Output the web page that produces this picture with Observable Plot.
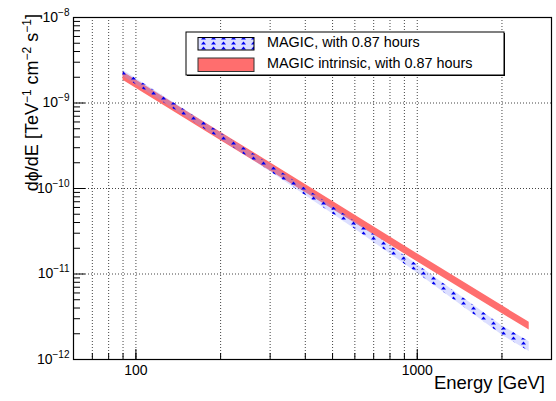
<!DOCTYPE html>
<html><head><meta charset="utf-8">
<script src="https://cdn.jsdelivr.net/npm/d3@7"></script>
<script src="https://cdn.jsdelivr.net/npm/@observablehq/plot@0.6"></script>
<style>
body{margin:0;background:#fff;}
#chart{position:relative;width:556px;height:401px;}
svg{font-family:"Liberation Sans",Arial,sans-serif;}
</style>
</head><body><div id="chart"></div>
<script>
const energyObs = [90, 150, 300, 600, 1000, 2000, 2500];
const obsUpper  = [2.41e-9, 8.20e-10, 1.905e-10, 4.14e-11, 1.294e-11, 2.48e-12, 1.61e-12];
const obsLower  = [2.05e-9, 6.92e-10, 1.585e-10, 3.37e-11, 1.028e-11, 1.93e-12, 1.24e-12];
// Intrinsic band
const energyIntr = [90, 200, 500, 1000, 2500];
const intrUpper  = [2.30e-9, 4.55e-10, 7.1e-11, 1.73e-11, 2.72e-12];
const intrLower  = [1.84e-9, 3.65e-10, 5.7e-11, 1.39e-11, 2.21e-12];

const seriesNames = ["MAGIC, with 0.87 hours", "MAGIC intrinsic, with 0.87 hours"];
const xGrid = [70, 80, 90, 100, 200, 300, 400, 500, 600, 700, 800, 900, 1000, 2000];
const xMajor = [100, 1000];
const yGrid = [1e-11, 1e-10, 1e-9];
const yDecades = [1e-12, 1e-11, 1e-10, 1e-9, 1e-8];
const yMinor = [2e-12,3e-12,4e-12,5e-12,6e-12,7e-12,8e-12,9e-12,
                2e-11,3e-11,4e-11,5e-11,6e-11,7e-11,8e-11,9e-11,
                2e-10,3e-10,4e-10,5e-10,6e-10,7e-10,8e-10,9e-10,
                2e-9,3e-9,4e-9,5e-9,6e-9,7e-9,8e-9,9e-9];

const W = 556, H = 401, mL = 73, mR = 5, mT = 17, mB = 42;
const innerW = W - mL - mR, innerH = H - mT - mB;

const obs = energyObs.map((e, i) => ({e, lo: obsLower[i], hi: obsUpper[i]}));
const intr = energyIntr.map((e, i) => ({e, lo: intrLower[i], hi: intrUpper[i]}));

const gridStyle = {stroke: "#444", strokeDasharray: "1,2", strokeWidth: 1};

const plot = Plot.plot({
  width: W, height: H,
  marginLeft: mL, marginRight: mR, marginTop: mT, marginBottom: mB,
  style: {fontFamily: "Liberation Sans, Arial, sans-serif", fontSize: "14px", background: "#fff"},
  x: {type: "log", domain: [60, 3000]},
  y: {type: "log", domain: [1e-12, 1e-8]},
  marks: [
    Plot.ruleX(xGrid, {x: d => d, ...gridStyle}),
    Plot.ruleY(yGrid, {y: d => d, ...gridStyle}),
    Plot.areaY(intr, {x: "e", y1: "lo", y2: "hi", fill: "#ff6e6e"}),
    Plot.areaY(obs, {x: "e", y1: "lo", y2: "hi", fill: "url(#magicHatch)"}),
    // inward ticks
    Plot.ruleX(xGrid, {x: d => d, insetTop: innerH - 6, stroke: "#000"}),
    Plot.ruleX(xMajor, {x: d => d, insetTop: innerH - 10, stroke: "#000"}),
    Plot.ruleY(yMinor, {y: d => d, insetRight: innerW - 7, stroke: "#000"}),
    Plot.ruleY(yDecades, {y: d => d, insetRight: innerW - 12, stroke: "#000"}),
    Plot.frame({stroke: "#000", strokeWidth: 1.2}),
    Plot.axisX(xMajor, {tickSize: 0, tickPadding: 6, tickFormat: d => String(d), fontSize: 14, label: null}),
    Plot.axisY(yDecades, {tickSize: 0, tickPadding: 4, tickFormat: d => "10" + String(Math.round(Math.log10(d))), fontSize: 14, label: null})
  ]
});

document.getElementById("chart").appendChild(plot);
const svg = d3.select(plot);

// pattern for the observed band
const defs = svg.insert("defs", ":first-child");
const pat = defs.append("pattern").attr("id", "magicHatch")
  .attr("patternUnits", "userSpaceOnUse").attr("width", 10).attr("height", 5);
pat.append("rect").attr("width", 10).attr("height", 5).attr("fill", "rgba(140,150,255,0.30)");
pat.append("path").attr("d", "M1,4.5 L3.5,1.5 L6,4.5 Z").attr("fill", "#0000f0");

// y tick labels with superscript exponents
svg.selectAll('g[aria-label="y-axis tick label"] text').each(function() {
  const t = d3.select(this);
  const s = t.text();
  const exp = s.slice(2).replace("-", "\u2212");
  t.text("");
  t.append("tspan").text("10");
  t.append("tspan").attr("dy", "-6").attr("font-size", "10").text(exp);
});

// axis titles
svg.append("text").attr("x", 545).attr("y", 389).attr("text-anchor", "end")
  .attr("font-size", 18.5).attr("fill", "#000").text("Energy [GeV]");
const yt = svg.append("text").attr("transform", "translate(38,14) rotate(-90)")
  .attr("text-anchor", "end").attr("font-size", 18).attr("fill", "#000");
yt.append("tspan").text("d\u03d5/dE [TeV");
yt.append("tspan").attr("dy", -7).attr("font-size", 12).text("\u22121");
yt.append("tspan").attr("dy", 7).text(" cm");
yt.append("tspan").attr("dy", -7).attr("font-size", 12).text("\u22122");
yt.append("tspan").attr("dy", 7).text(" s");
yt.append("tspan").attr("dy", -7).attr("font-size", 12).text("\u22121");
yt.append("tspan").attr("dy", 7).text("]");

// legend
const lg = svg.append("g").attr("text-anchor", "start");
lg.append("rect").attr("x", 187).attr("y", 33).attr("width", 318).attr("height", 43).attr("fill", "#000");
lg.append("rect").attr("x", 186).attr("y", 32).attr("width", 318).attr("height", 43)
  .attr("fill", "#fff").attr("stroke", "#000").attr("stroke-width", 1);
lg.append("rect").attr("x", 198).attr("y", 37.5).attr("width", 56).attr("height", 12.5)
  .attr("fill", "#fff").attr("stroke", "none");
lg.append("rect").attr("x", 198).attr("y", 37.5).attr("width", 56).attr("height", 12.5)
  .attr("fill", "url(#magicHatch)").attr("stroke", "#000");
lg.append("rect").attr("x", 198).attr("y", 58).attr("width", 56).attr("height", 13.5)
  .attr("fill", "#ff6e6e").attr("stroke", "#333");
lg.append("text").attr("x", 267).attr("y", 47).attr("text-anchor", "start").attr("font-size", 14.4).attr("fill", "#000").text(seriesNames[0]);
lg.append("text").attr("x", 267).attr("y", 67.8).attr("text-anchor", "start").attr("font-size", 14.4).attr("fill", "#000").text(seriesNames[1]);
</script>
</body></html>
